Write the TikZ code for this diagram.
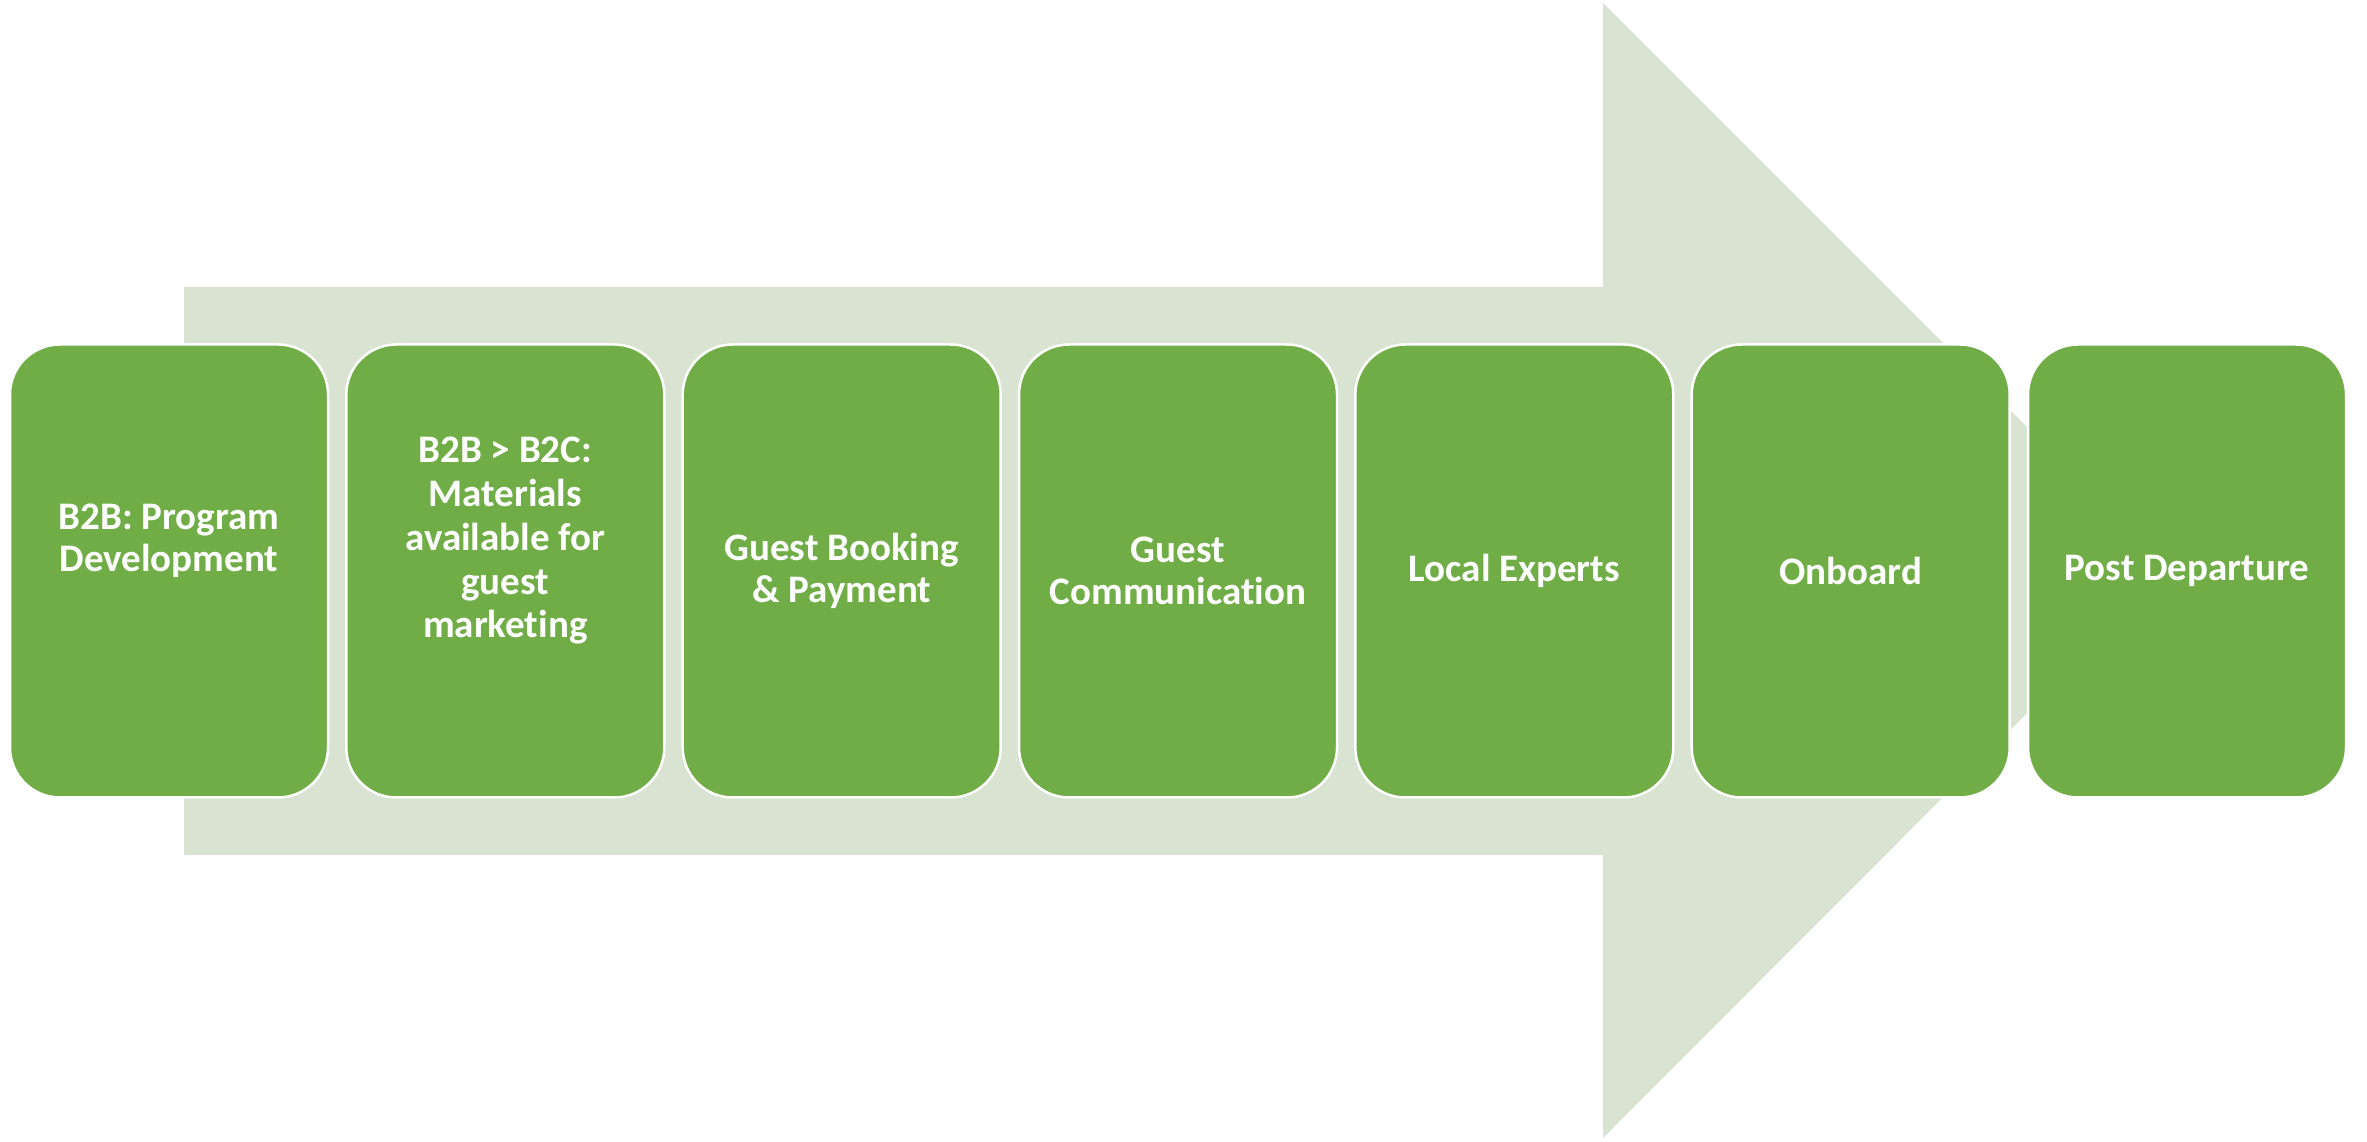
\documentclass[tikz,border=0pt]{standalone}
\usepackage{fontspec}
\setmainfont{Carlito}[Ligatures=NoCommon]
\definecolor{stepgreen}{HTML}{70AD47}
\definecolor{arrowtint}{RGB}{216,228,209}
\begin{document}
\begin{tikzpicture}[x=1pt,y=1pt,
  stagebox/.style={draw=white, line width=2.5pt, fill=stepgreen,
    rounded corners=50pt, minimum width=318pt, minimum height=453pt,
    inner sep=0pt},
  stagetext/.style={align=center, text=white, inner sep=0pt,
    font=\fontsize{39}{42}\selectfont\bfseries},
  bigarrow/.style={fill=arrowtint, draw=none}]
\useasboundingbox (0,0) rectangle (2367,1141);
% background process arrow
\fill[bigarrow] (184,854) -- (1603,854) -- (1603,1138) -- (2170,571)
  -- (1603,3) -- (1603,286) -- (184,286) -- cycle;
% process stages
\node[stagebox] (s1) at (169,570)    {};
\node[stagebox] (s2) at (505.3,570)  {};
\node[stagebox] (s3) at (841.7,570)  {};
\node[stagebox] (s4) at (1178,570)   {};
\node[stagebox] (s5) at (1514.3,570) {};
\node[stagebox] (s6) at (1850.7,570) {};
\node[stagebox] (s7) at (2187,570)   {};
% stage labels
\node[stagetext, yshift=30pt] (t1) at (s1) {B2B: Program\\Development};
\node[stagetext, yshift=30pt, font=\fontsize{39}{43.75}\selectfont\bfseries] (t2) at (s2)
  {B2B > B2C:\\Materials\\available for\\guest\\marketing};
\node[stagetext] (t3) at (s3) {Guest Booking\\\& Payment};
\node[stagetext] (t4) at (s4) {Guest\\Communication};
\node[stagetext] (t5) at (s5) {Local Experts};
\node[stagetext] (t6) at (s6) {Onboard};
\node[stagetext] (t7) at (s7) {Post Departure};
\end{tikzpicture}
\end{document}
